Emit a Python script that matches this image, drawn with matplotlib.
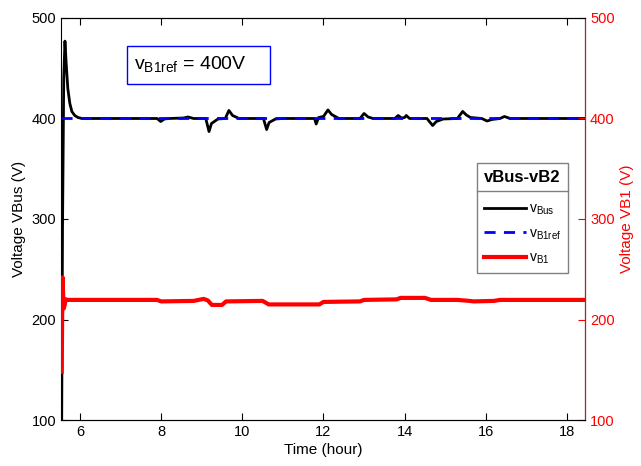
import matplotlib
matplotlib.use('Agg')
import matplotlib.pyplot as plt
from matplotlib.lines import Line2D
from matplotlib.patches import Rectangle

plt.rcParams['font.family'] = ['Liberation Sans', 'DejaVu Sans']
plt.rcParams['mathtext.fontset'] = 'custom'
plt.rcParams['mathtext.rm'] = 'Liberation Sans'
plt.rcParams['mathtext.it'] = 'Liberation Sans'

# vBus (black)
t_bus = [5.55, 5.57, 5.60, 5.63, 5.66, 5.70, 5.75, 5.80, 5.87, 5.95, 6.05,
         7.90, 7.99, 8.08, 8.20, 8.55, 8.66, 8.80, 9.10, 9.18, 9.24, 9.40,
         9.58, 9.67, 9.76, 9.92, 10.52, 10.60, 10.66, 10.82, 11.00, 11.78,
         11.82, 11.88, 12.00, 12.11, 12.20, 12.38, 12.90, 13.00, 13.10, 13.22,
         13.76, 13.84, 13.92, 14.00, 14.04, 14.12, 14.55, 14.69, 14.78, 14.95,
         15.30, 15.43, 15.52, 15.62, 15.90, 16.03, 16.15, 16.35, 16.46, 16.60,
         18.45]
v_bus = [100, 290, 440, 477, 455, 430, 415, 407, 403, 401, 400,
         400, 397, 399.5, 400, 400.5, 401.5, 400, 400, 387, 395, 399.5,
         400, 408, 403, 400, 400, 389, 396, 399.5, 400, 400,
         394.5, 401, 402, 408.5, 404, 400, 400, 405, 401.5, 400,
         400, 403, 400.5, 401, 403, 400, 400, 393, 397, 399.5,
         400, 407, 403.5, 401, 400, 397.5, 399, 400, 402, 400,
         400]

# vB1ref (blue dashed)
t_ref = [5.53, 18.45]
v_ref = [400, 400]

# vB1 (red)
t_b1 = [5.55, 5.56, 5.57, 5.585, 5.60, 5.62, 5.65, 5.70, 7.90, 8.00, 8.80,
        9.05, 9.15, 9.25, 9.50, 9.60, 10.50, 10.65, 11.90, 12.00, 12.90,
        13.00, 13.80, 13.90, 14.50, 14.65, 15.30, 15.45, 15.60, 15.70,
        16.20, 16.35, 18.45]
v_b1 = [148, 200, 242, 225, 211, 214, 220, 219.5, 219.5, 218, 218.5,
        220.5, 219, 214.5, 214.5, 218, 218.5, 215, 215, 217.5, 218,
        219.5, 220, 221.5, 221.5, 219.5, 219.5, 219, 218.5, 218,
        218.5, 219.5, 219.5]

x_ticks = [6, 8, 10, 12, 14, 16, 18]
y_ticks = [100, 200, 300, 400, 500]

fig = plt.figure(figsize=(6.41, 4.66), dpi=100)
ax = fig.add_axes([0.095, 0.0987, 0.818, 0.8627])
ax2 = ax.twinx()

l1, = ax.plot(t_bus, v_bus, color='black', lw=2, label=r'v$_{\mathrm{Bus}}$')
l2, = ax.plot(t_ref, v_ref, color='blue', lw=2, ls=(0, (4, 3)),
              label=r'v$_{\mathrm{B1ref}}$')
l3, = ax2.plot(t_b1, v_b1, color='red', lw=3, label=r'v$_{\mathrm{B1}}$')

ax.set_xlim(5.53, 18.45)
ax.set_ylim(100, 500)
ax2.set_ylim(100, 500)
ax.set_xticks(x_ticks)
ax.set_yticks(y_ticks)
ax2.set_yticks(y_ticks)

ax.tick_params(axis='x', direction='in', top=True, labelsize=10.5, length=5)
ax.tick_params(axis='y', direction='in', labelsize=10.5, length=5)
ax2.tick_params(axis='y', direction='in', colors='red', labelsize=10.5, length=5)
ax2.spines['right'].set_color('red')
ax2.spines['left'].set_visible(False)

ax.set_xlabel('Time (hour)', fontsize=11, labelpad=3)
ax.set_ylabel('Voltage VBus (V)', fontsize=11)
ax2.set_ylabel('Voltage VB1 (V)', fontsize=11, color='red')

ax.add_patch(Rectangle((0.126, 0.836), 0.273, 0.094, transform=ax.transAxes,
                       fc='white', ec='blue', lw=1, zorder=4))
ax.text(0.246, 0.885, r'v$_{\mathrm{B1ref}}$ = 400V', transform=ax.transAxes,
        ha='center', va='center', fontsize=14, zorder=5)

leg = ax2.legend(handles=[l1, l2, l3], title='vBus-vB2', loc='upper left',
                 bbox_to_anchor=(0.794, 0.639), borderaxespad=0,
                 fancybox=False, framealpha=1, edgecolor='gray',
                 fontsize=10, handlelength=3.0, labelspacing=0.65,
                 borderpad=0.5, handletextpad=0.2)
leg.get_title().set_fontweight('bold')
leg.get_title().set_fontsize(12)
leg._legend_box.sep = 12

fig.canvas.draw()
tb = leg.get_title().get_window_extent()
fb = leg.get_frame().get_window_extent()
inv = fig.transFigure.inverted()
ysep = tb.y0 - 6
(x0, y0), (x1, _) = inv.transform([(fb.x0, ysep), (fb.x1, ysep)])
fig.add_artist(Line2D([x0, x1], [y0, y0], color='gray', lw=1,
                      transform=fig.transFigure, zorder=10))

fig.savefig('out.png', dpi=100)
